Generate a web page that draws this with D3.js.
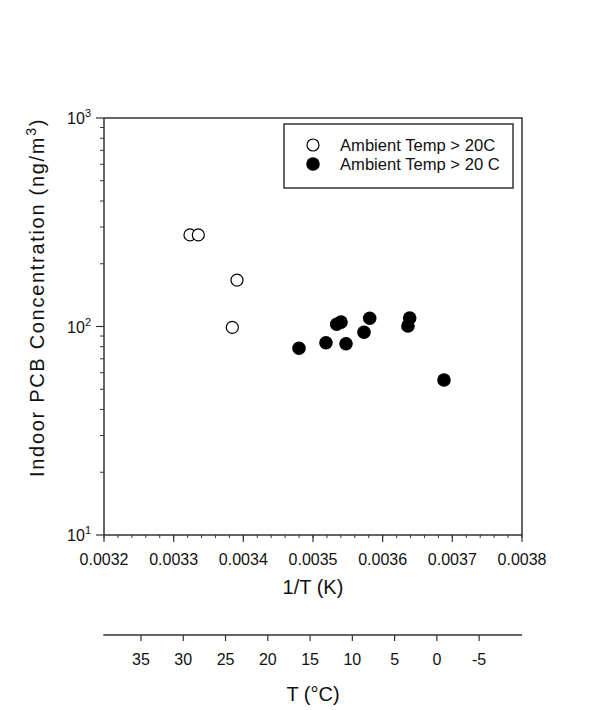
<!DOCTYPE html>
<html>
<head>
<meta charset="utf-8">
<script src="https://cdn.jsdelivr.net/npm/d3@7"></script>
<style>
  body { margin: 0; background: #fff; }
  text { font-family: Arial, "Liberation Sans", sans-serif; fill: #111; }
</style>
</head>
<body>
<div id="chart"></div>
<script>
// ambient > 20C (open circles)
const warmInvT = [0.0033234, 0.0033354, 0.0033909, 0.0033842];
const warmConc = [275, 275, 167, 99];
// ambient < 20C (filled)
const coldInvT = [0.0034799, 0.0035186, 0.003534, 0.0035402, 0.0035474, 0.0035732, 0.0035814, 0.0036363, 0.0036388, 0.003688];
const coldConc = [78.6, 83.6, 102.5, 105, 82.7, 93.8, 109.5, 100.6, 109.8, 55.4];

const xTicks = [0.0032, 0.0033, 0.0034, 0.0035, 0.0036, 0.0037, 0.0038];
const yTicks = [1, 2, 3]; // exponents
const cTicks = [35, 30, 25, 20, 15, 10, 5, 0, -5];
const legendLabels = ["Ambient Temp > 20C", "Ambient Temp > 20 C"];

const width = 600, height = 710;
const plot = {left: 104, top: 118, right: 522, bottom: 535};

let svg = d3.select("#chart").append("svg")
    .attr("width", width)
    .attr("height", height);

let x = d3.scaleLinear().domain([0.0032, 0.0038]).range([plot.left, plot.right]);
let y = d3.scaleLog().domain([10, 1000]).range([plot.bottom, plot.top]);
let xc = d3.scaleLinear().domain([39.46, -10.07]).range([103.3, 522]);

const stroke = "#333";

// frame top + right
svg.append("path")
    .attr("d", `M${plot.left},${plot.top}H${plot.right}V${plot.bottom}`)
    .attr("fill", "none").attr("stroke", stroke).attr("stroke-width", 1.5);

// x axis
let xMinor = d3.range(0.0032, 0.003801, 0.00002);
let xAxis = svg.append("g").attr("transform", `translate(0,${plot.bottom})`);
xAxis.append("line").attr("x1", plot.left).attr("x2", plot.right)
    .attr("stroke", stroke).attr("stroke-width", 1.5);
xAxis.selectAll(".minor").data(xMinor).enter().append("line")
    .attr("x1", d => x(d)).attr("x2", d => x(d))
    .attr("y1", 0).attr("y2", 3).attr("stroke", stroke);
xAxis.selectAll(".major").data(xTicks).enter().append("line")
    .attr("x1", d => x(d)).attr("x2", d => x(d))
    .attr("y1", 0).attr("y2", 7).attr("stroke", stroke).attr("stroke-width", 1.2);
xAxis.selectAll("text").data(xTicks).enter().append("text")
    .attr("x", d => x(d)).attr("y", 30)
    .attr("text-anchor", "middle").style("font-size", "16px")
    .text(d => d.toFixed(4));
svg.append("text").attr("x", (plot.left + plot.right) / 2).attr("y", 594)
    .attr("text-anchor", "middle").style("font-size", "20px").text("1/T (K)");

// y axis
let yAxis = svg.append("g").attr("transform", `translate(${plot.left},0)`);
yAxis.append("line").attr("y1", plot.top).attr("y2", plot.bottom)
    .attr("stroke", stroke).attr("stroke-width", 1.5);
let yMinor = [];
[10, 100].forEach(b => { for (let k = 2; k <= 9; k++) yMinor.push(b * k); });
yAxis.selectAll(".minor").data(yMinor).enter().append("line")
    .attr("x1", -4).attr("x2", 0)
    .attr("y1", d => y(d)).attr("y2", d => y(d)).attr("stroke", stroke);
yAxis.selectAll(".major").data(yTicks).enter().append("line")
    .attr("x1", -8).attr("x2", 0)
    .attr("y1", d => y(Math.pow(10, d))).attr("y2", d => y(Math.pow(10, d)))
    .attr("stroke", stroke).attr("stroke-width", 1.2);
let yl = yAxis.selectAll("text").data(yTicks).enter().append("text")
    .attr("x", -13).attr("y", d => y(Math.pow(10, d)) + 6)
    .attr("text-anchor", "end").style("font-size", "16px");
yl.append("tspan").text("10");
yl.append("tspan").attr("dy", -7).style("font-size", "11px").text(d => d);

let ylab = svg.append("text")
    .attr("transform", "translate(44,477) rotate(-90)")
    .attr("text-anchor", "start").style("font-size", "20px")
    .style("letter-spacing", "1.7px");
ylab.append("tspan").text("Indoor PCB Concentration (ng/m");
ylab.append("tspan").attr("dy", -8).style("font-size", "14px").text("3");
ylab.append("tspan").attr("dy", 8).text(")");

// celsius axis
let cAxis = svg.append("g").attr("transform", "translate(0,635)");
cAxis.append("line").attr("x1", xc.range()[0]).attr("x2", xc.range()[1])
    .attr("stroke", stroke).attr("stroke-width", 1.5);
cAxis.selectAll("line.t").data(cTicks).enter().append("line")
    .attr("x1", d => xc(d)).attr("x2", d => xc(d))
    .attr("y1", 0).attr("y2", 6).attr("stroke", stroke).attr("stroke-width", 1.2);
cAxis.selectAll("text").data(cTicks).enter().append("text")
    .attr("x", d => xc(d)).attr("y", 30)
    .attr("text-anchor", "middle").style("font-size", "16px")
    .text(d => d);
svg.append("text").attr("x", (plot.left + plot.right) / 2).attr("y", 701)
    .attr("text-anchor", "middle").style("font-size", "20px").text("T (°C)");

// points
let warm = warmInvT.map((v, i) => ({x: v, y: warmConc[i]}));
let cold = coldInvT.map((v, i) => ({x: v, y: coldConc[i]}));

svg.append("g").selectAll("circle").data(cold).enter().append("circle")
    .attr("cx", d => x(d.x)).attr("cy", d => y(d.y)).attr("r", 6.8)
    .attr("fill", "#000");
svg.append("g").selectAll("circle").data(warm).enter().append("circle")
    .attr("cx", d => x(d.x)).attr("cy", d => y(d.y)).attr("r", 6)
    .attr("fill", "#fff").attr("stroke", "#000").attr("stroke-width", 1.2);

// legend
let lg = svg.append("g");
lg.append("rect").attr("x", 284).attr("y", 124).attr("width", 229).attr("height", 64)
    .attr("fill", "#fff").attr("stroke", stroke).attr("stroke-width", 1.5);
lg.append("circle").attr("cx", 313).attr("cy", 145).attr("r", 6)
    .attr("fill", "#fff").attr("stroke", "#000").attr("stroke-width", 1.2);
lg.append("circle").attr("cx", 313).attr("cy", 164).attr("r", 6.8).attr("fill", "#000");
lg.selectAll("text").data(legendLabels).enter().append("text")
    .attr("x", 340).attr("y", (d, i) => 151 + i * 19)
    .style("font-size", "16.6px").text(d => d);
</script>
</body>
</html>
